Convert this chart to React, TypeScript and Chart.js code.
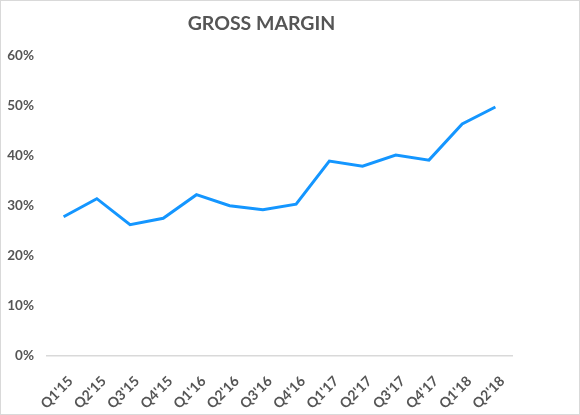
import { useEffect, useRef } from "react"
import { Chart, registerables } from "chart.js"

Chart.register(...registerables)

const quarters = [
  "Q1'15", "Q2'15", "Q3'15", "Q4'15",
  "Q1'16", "Q2'16", "Q3'16", "Q4'16",
  "Q1'17", "Q2'17", "Q3'17", "Q4'17",
  "Q1'18", "Q2'18",
]
const grossMargin = [
  27.8, 31.4, 26.2, 27.5,
  32.2, 30.0, 29.2, 30.3,
  38.9, 37.9, 40.1, 39.1,
  46.3, 49.7,
]
const yTicks = [0, 10, 20, 30, 40, 50, 60]

const textColor = "#555555"
const fontFamily = "Lato, 'Noto Sans', sans-serif"

// nudge the title a little right, the original is not centred on the canvas
const titleNudge = {
  id: "titleNudge",
  afterLayout(chart) {
    const t = chart.titleBlock
    if (t) {
      t.left += 5
      t.right += 5
    }
  },
}

export default function App() {
  const chartRef = useRef<HTMLCanvasElement | null>(null)
  const chartInstance = useRef<Chart | null>(null)

  useEffect(() => {
    document.body.style.margin = "0"
    if (chartInstance.current) chartInstance.current.destroy()
    if (!chartRef.current) return

    chartInstance.current = new Chart(chartRef.current, {
      type: "line",
      data: {
        labels: quarters,
        datasets: [
          {
            label: "Gross margin",
            data: grossMargin,
            borderColor: "#1496ff",
            borderWidth: 3,
            pointRadius: 0,
            tension: 0,
            fill: false,
          },
        ],
      },
      plugins: [titleNudge],
      options: {
        animation: false,
        responsive: true,
        maintainAspectRatio: false,
        layout: { padding: { left: 0, right: 67, top: 0, bottom: 0 } },
        plugins: {
          legend: { display: false },
          tooltip: { enabled: false },
          title: {
            display: true,
            text: "GROSS MARGIN",
            color: textColor,
            font: { family: fontFamily, size: 19.5, weight: "bold" },
            padding: { top: 11, bottom: 20 },
          },
        },
        scales: {
          x: {
            offset: true,
            grid: { display: false, drawTicks: false },
            border: { display: true, color: "#d9d9d9", width: 1.5 },
            ticks: {
              color: textColor,
              font: { family: fontFamily, size: 14, weight: "bold" },
              minRotation: 45,
              maxRotation: 45,
              padding: 17,
              labelOffset: 7,
              autoSkip: false,
            },
            afterFit: (scale) => {
              scale.height = 58
            },
          },
          y: {
            min: yTicks[0],
            max: yTicks[yTicks.length - 1],
            grid: { display: false, drawTicks: false },
            border: { display: false },
            afterBuildTicks: (scale) => {
              scale.ticks = yTicks.map((v) => ({ value: v }))
            },
            ticks: {
              color: textColor,
              font: { family: fontFamily, size: 13.5, weight: "bold" },
              padding: 13,
              callback: (v) => v + "%",
            },
            afterFit: (scale) => {
              scale.width = 46
            },
          },
        },
      },
    })

    return () => {
      if (chartInstance.current) {
        chartInstance.current.destroy()
        chartInstance.current = null
      }
    }
  }, [])

  return (
    <div
      style={{
        position: "absolute",
        left: 0,
        top: 0,
        width: 580,
        height: 415,
        boxSizing: "border-box",
        border: "1px solid #d9d9d9",
        background: "#fff",
      }}
    >
      <canvas ref={chartRef} />
    </div>
  )
}
